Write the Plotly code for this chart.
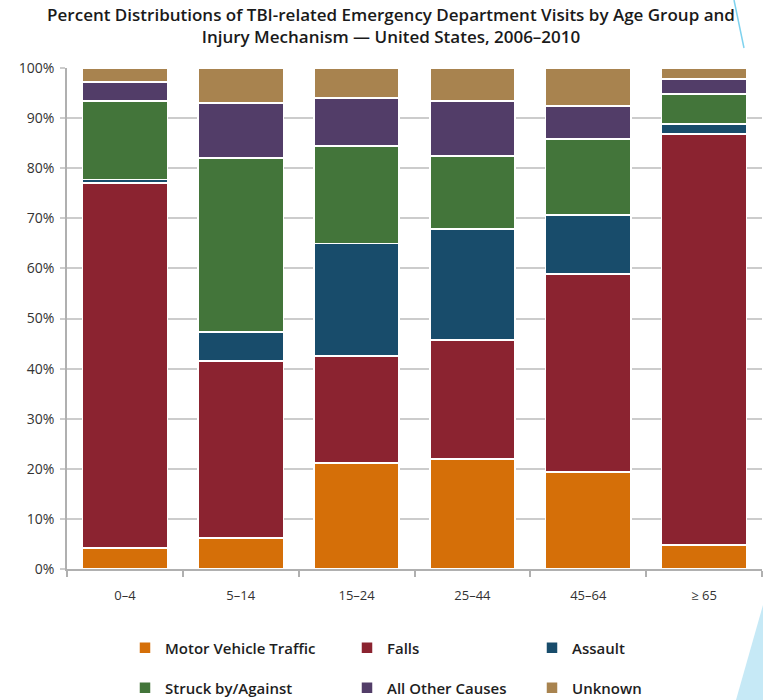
import plotly.graph_objects as go

age_groups = ["0–4", "5–14", "15–24", "25–44", "45–64", "≥ 65"]
series_names = ["Motor Vehicle Traffic", "Falls", "Assault", "Struck by/Against", "All Other Causes", "Unknown"]
motor_vehicle = [4.2, 6.2, 21.2, 22.0, 19.4, 4.8]
falls = [72.8, 35.3, 21.3, 23.7, 39.5, 82.0]
assault = [0.7, 5.8, 22.5, 22.2, 11.8, 2.0]
struck = [15.7, 34.7, 19.4, 14.5, 15.1, 6.0]
other = [3.8, 11.0, 9.6, 11.0, 6.6, 3.0]
unknown = [2.8, 7.0, 6.0, 6.6, 7.6, 2.2]
y_ticks = [0, 10, 20, 30, 40, 50, 60, 70, 80, 90, 100]
y_tick_labels = [f"{v}%" for v in y_ticks]

series_values = [motor_vehicle, falls, assault, struck, other, unknown]
colors = ["#d56f08", "#8b2330", "#184c6b", "#43753a", "#523d68", "#a8834f"]

W, H = 763, 700
L, R, T, B = 67, 762, 68, 569  # plot area in px

# legend positions (px): left of legend box, vertical center
legend_pos = [(125, 648), (347, 648), (532, 648), (125, 688), (347, 688), (532, 688)]

fig = go.Figure()
for i, (name, vals, col) in enumerate(zip(series_names, series_values, colors)):
    lg = "legend" if i == 0 else f"legend{i+1}"
    fig.add_trace(go.Bar(
        x=age_groups, y=vals, name=name,
        marker=dict(color=col, line=dict(color="white", width=1.5)),
        legend=lg,
    ))

font_fam = "Open Sans, Noto Sans, sans-serif"
layout_legends = {}
for i, (lx, ly) in enumerate(legend_pos):
    key = "legend" if i == 0 else f"legend{i+1}"
    layout_legends[key] = dict(
        xref="container", yref="container",
        x=lx / W, y=1 - ly / H, xanchor="left", yanchor="middle",
        font=dict(family=font_fam, size=15, color="#1e1e1e", weight=600),
        bgcolor="rgba(0,0,0,0)", itemclick=False,
    )

def px_to_paper(px, py):
    return (px - L) / (R - L), (B - py) / (B - T)

# decorative shapes
x0, y0 = px_to_paper(734, 0)
x1, y1 = px_to_paper(744, 48)
a = px_to_paper(763, 605)
b = px_to_paper(763, 700)
c = px_to_paper(736, 700)

fig.update_layout(
    width=W, height=H,
    barmode="stack", bargap=0.265,
    plot_bgcolor="white", paper_bgcolor="white",
    margin=dict(l=L, r=W - R, t=T, b=H - B, pad=0, autoexpand=False),
    title=dict(
        text="Percent Distributions of TBI-related Emergency Department Visits by Age Group and<br>Injury Mechanism — United States, 2006–2010",
        x=391 / W, xref="container", xanchor="center",
        y=1 - 21 / H, yref="container", yanchor="middle",
        font=dict(family=font_fam, size=17, color="#1a1a1a", weight=600),
    ),
    xaxis=dict(
        type="category", showgrid=False, showline=True, linecolor="#b0b0b0", linewidth=1.5,
        ticks="outside", tickson="boundaries", ticklen=6, tickcolor="#b0b0b0", tickwidth=1.5,
        tickfont=dict(family=font_fam, size=13, color="#333"),
        ticklabelstandoff=14,
        fixedrange=True, automargin=False, tickangle=0,
    ),
    yaxis=dict(
        range=[0, 100], tickvals=y_ticks, ticktext=y_tick_labels,
        showgrid=True, gridcolor="#cccccc", gridwidth=1.5,
        showline=True, linecolor="#b0b0b0", linewidth=1.5,
        ticks="outside", ticklen=5, tickcolor="#cccccc", tickwidth=1.5,
        tickfont=dict(family=font_fam, size=14, color="#333"),
        ticklabelstandoff=3,
        zeroline=False, fixedrange=True, automargin=False,
    ),
    showlegend=True,
    shapes=[
        dict(type="line", xref="paper", yref="paper", x0=x0, y0=y0, x1=x1, y1=y1,
             line=dict(color="#7fd2ee", width=1.5), layer="above"),
        dict(type="path", xref="paper", yref="paper",
             path=f"M {a[0]},{a[1]} L {b[0]},{b[1]} L {c[0]},{c[1]} Z",
             fillcolor="#c6e9f6", line=dict(width=0), layer="above"),
    ],
    **layout_legends,
)

fig.write_html("out.html")
